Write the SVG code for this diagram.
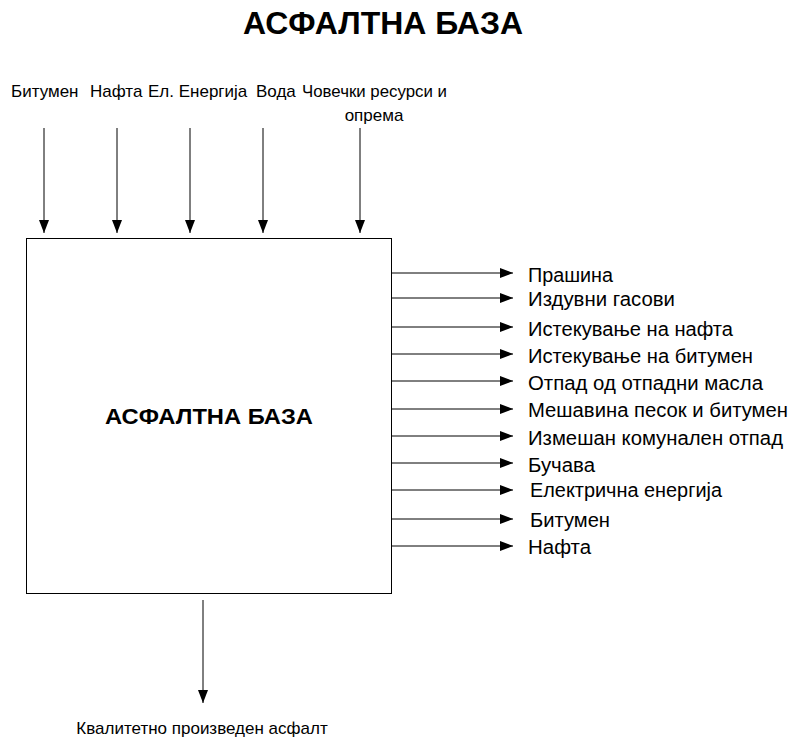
<svg xmlns="http://www.w3.org/2000/svg" width="790" height="740" viewBox="0 0 790 740">
<style>
.t{font-family:"Liberation Sans",Arial,sans-serif;fill:#000}
.top{font-size:17px}
.out{font-size:20px}
.ttl{font-size:31px;font-weight:bold}
.lbl{font-size:22px;font-weight:bold}
.c{stroke:#000;stroke-width:1;fill:none}
</style>
<defs>
<marker id="ah" markerUnits="userSpaceOnUse" markerWidth="14" markerHeight="10" refX="13" refY="5" orient="auto">
<path d="M0,0 L13,5 L0,10 z" fill="#000"/>
</marker>
</defs>
<rect width="790" height="740" fill="#fff"/>
<text class="t ttl" x="243" y="34" textLength="280" lengthAdjust="spacingAndGlyphs">АСФАЛТНА БАЗА</text>
<g id="node-main">
<rect x="26.5" y="238.5" width="365" height="355" fill="#fff" stroke="#000" stroke-width="1"/>
<text class="t lbl" x="105" y="424" textLength="208" lengthAdjust="spacingAndGlyphs">АСФАЛТНА БАЗА</text>
</g>
<g id="inputs">
<text class="t top" x="11" y="97">Битумен</text>
<text class="t top" x="90" y="97">Нафта</text>
<text class="t top" x="148" y="97">Ел. Енергија</text>
<text class="t top" x="256" y="97">Вода</text>
<text class="t top" x="302" y="97" textLength="145" lengthAdjust="spacingAndGlyphs">Човечки ресурси и</text>
<text class="t top" x="374" y="121" text-anchor="middle">опрема</text>
</g>
<g id="outputs">
<text class="t out" x="528" y="282" textLength="85" lengthAdjust="spacingAndGlyphs">Прашина</text>
<text class="t out" x="528" y="306" textLength="147" lengthAdjust="spacingAndGlyphs">Издувни гасови</text>
<text class="t out" x="528" y="336" textLength="205" lengthAdjust="spacingAndGlyphs">Истекување на нафта</text>
<text class="t out" x="528" y="363" textLength="225" lengthAdjust="spacingAndGlyphs">Истекување на битумен</text>
<text class="t out" x="528" y="390" textLength="235" lengthAdjust="spacingAndGlyphs">Отпад од отпадни масла</text>
<text class="t out" x="528" y="417" textLength="260" lengthAdjust="spacingAndGlyphs">Мешавина песок и битумен</text>
<text class="t out" x="528" y="445" textLength="255" lengthAdjust="spacingAndGlyphs">Измешан комунален отпад</text>
<text class="t out" x="528" y="472" textLength="67" lengthAdjust="spacingAndGlyphs">Бучава</text>
<text class="t out" x="530" y="497" textLength="192" lengthAdjust="spacingAndGlyphs">Електрична енергија</text>
<text class="t out" x="530" y="527" textLength="80" lengthAdjust="spacingAndGlyphs">Битумен</text>
<text class="t out" x="528" y="554" textLength="63" lengthAdjust="spacingAndGlyphs">Нафта</text>
</g>
<g id="product">
<text class="t top" x="202" y="734" text-anchor="middle">Квалитетно произведен асфалт</text>
</g>
<g id="connectors">
<line class="c" x1="44" y1="128" x2="44" y2="233" marker-end="url(#ah)"/>
<line class="c" x1="117" y1="128" x2="117" y2="233" marker-end="url(#ah)"/>
<line class="c" x1="190" y1="128" x2="190" y2="233" marker-end="url(#ah)"/>
<line class="c" x1="263" y1="128" x2="263" y2="233" marker-end="url(#ah)"/>
<line class="c" x1="360" y1="128" x2="360" y2="233" marker-end="url(#ah)"/>
<line class="c" x1="391" y1="273" x2="513" y2="273" marker-end="url(#ah)"/>
<line class="c" x1="391" y1="298" x2="513" y2="298" marker-end="url(#ah)"/>
<line class="c" x1="391" y1="327" x2="513" y2="327" marker-end="url(#ah)"/>
<line class="c" x1="391" y1="354" x2="513" y2="354" marker-end="url(#ah)"/>
<line class="c" x1="391" y1="381" x2="513" y2="381" marker-end="url(#ah)"/>
<line class="c" x1="391" y1="409" x2="513" y2="409" marker-end="url(#ah)"/>
<line class="c" x1="391" y1="436" x2="513" y2="436" marker-end="url(#ah)"/>
<line class="c" x1="391" y1="463" x2="513" y2="463" marker-end="url(#ah)"/>
<line class="c" x1="391" y1="490" x2="513" y2="490" marker-end="url(#ah)"/>
<line class="c" x1="391" y1="519" x2="513" y2="519" marker-end="url(#ah)"/>
<line class="c" x1="391" y1="546" x2="513" y2="546" marker-end="url(#ah)"/>
<line class="c" x1="203" y1="600" x2="203" y2="703" marker-end="url(#ah)"/>
</g>
</svg>
